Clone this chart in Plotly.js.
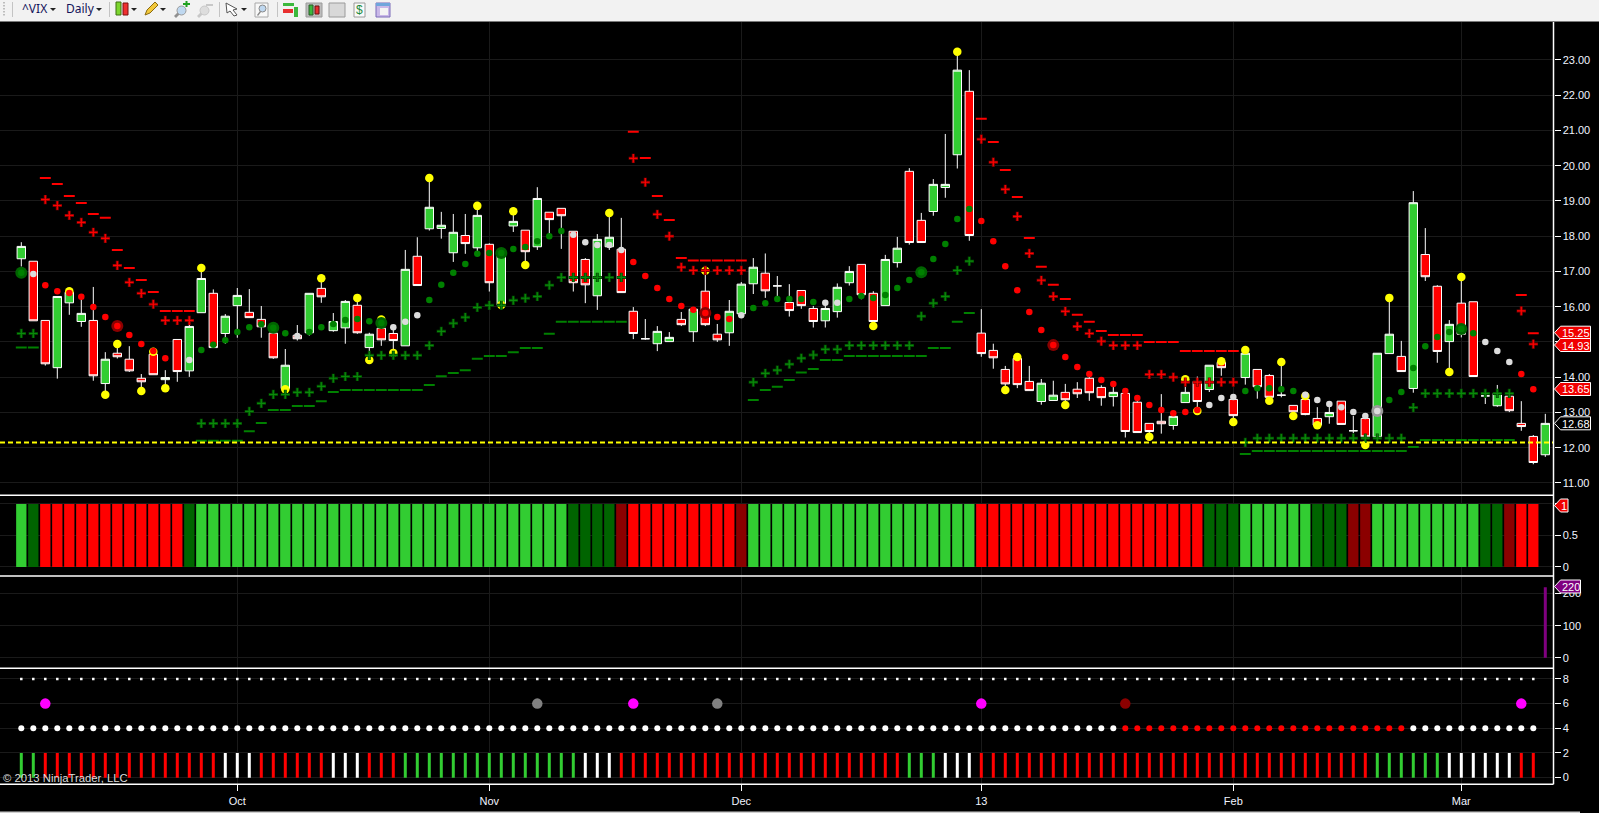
<!DOCTYPE html>
<html>
<head>
<meta charset="utf-8">
<title>^VIX Daily</title>
<script src="https://cdn.plot.ly/plotly-3.0.1.min.js"></script>
<style>html,body{margin:0;padding:0;background:#000;overflow:hidden}#chart{width:1599px;height:813px}</style>
</head>
<body>
<div id="chart"></div>
<script>
// ---------- price panel data ----------
const openPrices = [17.36,17.29,15.61,14.27,16.11,15.58,15.61,13.82,14.68,14.51,
13.97,14.65,13.93,15.07,14.18,15.83,16.38,15.24,16.03,15.84,
15.64,15.25,13.68,15.19,15.26,16.52,15.32,15.40,16.04,14.84,
15.39,15.24,14.89,17.43,18.21,18.22,17.53,18.02,17.67,17.77,
16.04,18.29,18.17,17.70,18.68,18.79,18.14,17.34,16.31,17.70,
17.63,15.87,15.09,14.95,15.01,15.64,15.29,16.44,15.22,15.26,
15.80,16.65,16.95,16.59,16.12,16.46,15.95,15.60,15.86,16.68,
17.20,16.38,16.03,17.25,19.84,18.45,18.70,19.38,20.31,22.11,
15.25,14.76,14.22,14.53,13.88,13.31,13.34,13.57,13.66,13.97,
13.71,13.45,13.54,13.29,12.69,12.75,12.63,13.28,13.88,13.65,
14.42,13.37,13.99,14.22,14.05,13.49,13.20,13.37,12.83,12.88,
13.32,12.48,12.83,12.31,14.67,14.59,13.68,17.48,16.58,15.01,
16.10,16.14,13.47,13.19,13.46,12.69,12.32,11.80];
const highPrices = [17.83,17.29,15.61,16.29,16.52,16.33,16.56,14.71,14.87,14.88,
14.09,14.77,14.20,15.07,15.72,17.04,16.49,15.79,16.53,16.50,
16.02,15.53,14.80,15.48,16.38,16.85,15.82,16.19,16.19,15.26,
15.72,15.48,17.61,17.97,19.64,18.69,18.63,18.63,18.84,17.80,
17.47,18.70,18.17,19.39,18.68,18.79,18.14,17.38,18.06,18.60,
18.52,15.99,15.65,15.45,15.28,15.85,15.93,17.00,15.51,16.19,
16.70,17.38,17.51,16.87,16.64,16.46,16.02,16.14,16.66,17.15,
17.20,16.44,17.47,17.98,19.93,18.66,19.62,20.90,23.19,22.71,
15.93,14.95,14.32,14.58,14.32,13.95,13.90,13.81,13.86,14.06,
13.77,13.73,13.64,13.35,12.69,13.52,12.97,13.73,14.02,14.34,
14.53,13.49,14.87,14.22,14.09,14.44,13.20,13.54,13.15,13.16,
13.32,12.90,12.93,14.68,16.24,15.03,19.28,18.23,16.61,15.62,
16.80,16.14,13.64,13.78,13.46,13.32,12.36,12.96];
const lowPrices = [17.14,15.60,14.33,13.96,15.77,15.43,13.90,13.54,14.53,14.15,
13.68,14.07,13.73,13.87,14.01,15.83,14.84,14.95,15.12,15.69,
15.12,14.52,13.64,15.04,15.18,16.11,15.29,14.95,15.23,14.49,
14.89,14.72,14.89,16.60,18.16,17.93,17.27,17.50,17.56,16.43,
16.00,18.12,17.23,17.61,18.03,17.64,16.43,16.10,15.91,17.61,
16.40,15.08,15.06,14.74,15.01,15.45,15.00,15.45,15.00,14.89,
15.76,16.36,16.25,16.27,15.72,15.94,15.41,15.41,15.69,16.60,
16.21,15.53,16.03,17.11,17.76,17.82,18.58,19.09,19.92,17.87,
14.58,14.24,13.73,13.69,13.62,13.22,13.34,13.26,13.41,13.33,
13.19,13.17,12.29,12.43,12.31,12.40,12.51,13.28,12.98,13.58,
14.04,12.74,13.79,13.39,13.26,13.43,12.88,12.92,12.60,12.68,
12.66,12.41,12.29,12.29,14.67,14.16,13.56,16.73,14.41,14.16,
15.13,14.02,13.24,13.16,13.01,12.48,11.53,11.74];
const closePrices = [17.71,15.60,14.38,16.29,16.41,15.81,14.04,14.51,14.58,14.18,
13.87,14.07,13.99,14.16,15.44,16.80,14.84,15.73,16.32,15.69,
15.43,14.55,14.34,15.09,16.38,16.28,15.58,16.15,15.26,15.22,
15.06,15.04,17.06,16.60,18.82,18.31,18.11,17.79,18.59,16.68,
17.47,18.42,17.56,19.07,18.47,18.58,16.68,16.62,17.91,17.97,
16.40,15.24,15.09,15.30,15.13,15.49,15.93,15.49,15.06,15.87,
16.64,17.12,16.45,16.59,15.89,16.03,15.58,15.95,16.55,17.00,
16.34,15.58,17.34,17.66,17.82,17.82,19.47,19.47,22.71,18.02,
14.67,14.55,13.81,13.79,13.62,13.83,13.49,13.36,13.53,13.56,
13.42,13.57,12.46,12.43,12.46,12.68,12.89,13.57,13.31,14.34,
14.27,12.91,14.68,13.73,13.43,13.49,13.02,12.94,12.64,13.00,
12.66,12.48,12.31,14.68,15.22,14.16,18.95,16.85,14.73,15.50,
15.22,14.02,13.47,13.54,13.05,12.60,11.58,12.69];

const trendDots = [16.96,16.93,16.61,16.44,16.39,16.28,15.99,15.71,15.45,15.20,
14.94,14.74,14.54,14.49,14.49,14.77,14.92,15.05,15.28,15.42,
15.50,15.40,15.25,15.17,15.28,15.42,15.51,15.62,15.65,15.59,
15.54,15.42,15.57,15.76,16.19,16.62,16.96,17.21,17.50,17.52,
17.52,17.64,17.69,17.86,18.00,18.15,18.04,17.83,17.75,17.75,
17.61,17.27,16.87,16.53,16.22,16.02,15.91,15.82,15.71,15.65,
15.76,15.96,16.10,16.22,16.22,16.22,16.13,16.11,16.11,16.22,
16.30,16.25,16.33,16.53,16.76,16.98,17.35,17.78,18.49,18.77,
18.43,17.86,17.15,16.47,15.85,15.34,14.91,14.57,14.29,14.09,
13.92,13.81,13.61,13.41,13.21,13.07,12.98,13.01,13.07,13.21,
13.41,13.44,13.61,13.69,13.69,13.66,13.61,13.50,13.35,13.24,
13.15,13.01,12.90,13.04,13.35,13.58,14.26,14.88,15.14,15.28,
15.37,15.25,15.00,14.74,14.43,14.09,13.66,null];
const trendKindRuns = [['g',1],['w',1],['r',12],['w',1],['g',8],['w',1],['g',7],['w',3],['g',12],['w',5],['r',9],['w',1],['g',6],['w',2],['g',11],['r',19],['w',3],['g',5],['w',7],['g',8],['w',3],['r',2],['w',1]];
const bigDotIndex = [0,8,21,30,40,57,75,86,113,120];

const stopCrosses = [15.24,15.24,19.04,18.87,18.59,18.39,18.11,17.94,17.17,16.69,
16.38,16.07,15.61,15.61,15.61,12.69,12.69,12.69,12.69,13.03,
13.26,13.51,13.51,13.57,13.57,13.74,13.97,14.02,14.02,14.62,
14.62,14.62,14.62,14.62,14.90,15.30,15.53,15.70,15.98,16.04,
16.04,16.18,16.24,16.29,16.61,16.83,16.83,16.83,16.83,16.83,
16.83,20.21,19.53,18.62,18.00,17.12,17.03,17.03,17.03,17.03,
17.03,13.86,14.11,14.20,14.37,14.54,14.63,14.79,14.79,14.90,
14.90,14.90,14.90,14.90,14.90,15.73,16.10,16.29,17.03,17.29,
20.75,20.10,19.33,18.56,17.51,16.75,16.29,15.87,15.44,15.24,
15.02,14.90,14.90,14.90,14.08,14.08,14.00,13.86,13.86,13.86,
13.86,13.86,12.15,12.27,12.27,12.27,12.27,12.27,12.27,12.27,
12.27,12.27,12.27,12.27,12.27,12.27,13.14,13.54,13.54,13.54,
13.54,13.54,13.54,13.54,13.54,15.88,14.94,null];
const stopDashes = [14.84,14.84,19.65,19.48,19.14,18.94,18.63,18.52,17.61,17.10,
16.76,16.42,15.88,15.88,15.88,12.20,12.20,12.20,12.20,12.47,
12.70,13.07,13.07,13.18,13.18,13.32,13.58,13.64,13.64,13.64,
13.64,13.64,13.64,13.64,13.78,14.03,14.12,14.20,14.52,14.60,
14.60,14.71,14.83,14.83,15.23,15.57,15.57,15.57,15.57,15.57,
15.57,20.96,20.22,19.14,18.46,17.38,17.31,17.31,17.31,17.31,
17.31,13.35,13.64,13.73,13.92,14.13,14.23,14.49,14.49,14.60,
14.60,14.60,14.60,14.60,14.60,14.60,14.83,14.83,15.57,15.82,
21.33,20.67,19.88,19.11,17.95,17.13,16.62,16.22,15.77,15.57,
15.31,15.20,15.20,15.20,15.00,15.00,15.00,14.74,14.74,14.74,
14.74,14.74,11.82,11.91,11.91,11.91,11.91,11.91,11.91,11.91,
11.91,11.91,11.91,11.91,11.91,11.91,12.02,12.22,12.22,12.22,
12.22,12.22,12.22,12.22,12.22,16.33,15.25,null];
const stopKindRuns = [['g',2],['r',13],['g',36],['r',10],['g',19],['r',22],['g',23],['r',2],['g',1]];

const yellowIndex = [4,7,8,10,11,12,15,22,25,28,29,30,31,34,38,40,41,42,49,57,71,78,82,83,87,94,97,98,100,101,102,104,105,106,107,108,112,114,119,120];
const yellowPrice = [16.44,13.50,14.94,13.61,14.72,13.69,17.10,13.66,16.81,16.25,14.49,15.64,14.69,19.65,18.86,16.05,18.71,17.18,18.66,17.02,15.45,23.23,13.64,14.57,13.21,12.31,13.94,13.04,14.45,12.73,14.77,13.33,14.43,12.90,13.47,12.64,12.08,16.25,14.15,16.84];
const supportLevel = 12.15;

// ---------- lower panels ----------
const statePanelRuns = [['g',1],['d',1],['r',12],['d',1],['g',31],['d',4],['D',1],['r',9],['D',1],['g',19],['r',19],['d',3],['g',6],['d',3],['D',2],['g',9],['d',2],['D',1],['r',2]];
const stateValue = 1;
const volumeLastIndex = 127;
const volumeLastValue = 220;
const topRowLevel = 8;
const eventRowLevel = 6;
const midRowLevel = 4;
const tickBarLevel = 2;
const eventIndex = [2,43,51,58,80,92,125];
const eventColors = ['#FF00FF','#808080','#FF00FF','#808080','#FF00FF','#8B0000','#FF00FF'];
const midRowRuns = [['w',92],['r',24],['w',11]];
const tickBarRuns = [['g',2],['r',15],['w',3],['r',6],['w',3],['r',3],['g',15],['w',3],['r',24],['g',3],['w',3],['r',33],['g',6],['w',6],['r',2]];

// ---------- axes ----------
const monthIndex = [18,39,60,80,101,120];
const monthLabels = ['Oct','Nov','Dec','13','Feb','Mar'];
const priceTicks = [11,12,13,14,15,16,17,18,19,20,21,22,23];
const stateTicks = [0,0.5,1];
const stateTickText = ['0','0.5',''];
const volumeTicks = [0,100,200];
const signalTicks = [0,2,4,6,8];

// ---------- helpers ----------
const W = 1599, H = 813, AXR = 1553.5;
const COL = {g:'#32CD32', d:'#006400', r:'#FF0000', D:'#8B0000', w:'#FFFFFF'};
const expand = runs => runs.flatMap(([k,n]) => Array(n).fill(k));
const idx = n => Array.from({length:n},(_,i)=>i);
const px = x => x/W, py = y => 1-y/H;
const dom = (top,bot) => [py(bot),py(top)];
const X = idx(128);
const trendKinds = expand(trendKindRuns);
const stopKinds = expand(stopKindRuns);
const trendColor = {g:'#008000', r:'#FF0000', w:'#DCDCDC'};
const bigColor = {g:'#006400', r:'#8B0000', w:'#9A9A9A'};
const stopBright = {g:'#0A8A0A', r:'#FF0000'};
const stopHalo = {g:'#004A00', r:'#800000'};

const traces = [
  {type:'candlestick', x:X, open:openPrices, high:highPrices, low:lowPrices, close:closePrices, xaxis:'x', yaxis:'y',
   increasing:{line:{color:'#FFFFFF',width:1}, fillcolor:'#32CD32'},
   decreasing:{line:{color:'#FFFFFF',width:1}, fillcolor:'#FF0000'},
   whiskerwidth:0, hoverinfo:'skip', showlegend:false},
  {type:'scatter', mode:'markers', x:yellowIndex, y:yellowPrice, xaxis:'x', yaxis:'y',
   marker:{size:8.5,color:'#FFFF00'}, hoverinfo:'skip'},
  {type:'scatter', mode:'markers', x:X, y:stopDashes, xaxis:'x', yaxis:'y',
   marker:{symbol:'line-ew',size:7.8,line:{width:2,color:stopKinds.map(k=>k==='g'?'#008000':'#FF0000')}}, hoverinfo:'skip'},
  {type:'scatter', mode:'markers', x:X, y:stopCrosses, xaxis:'x', yaxis:'y',
   marker:{symbol:'cross-thin',size:6.6,line:{width:3,color:stopKinds.map(k=>stopHalo[k])}}, hoverinfo:'skip'},
  {type:'scatter', mode:'markers', x:X, y:stopCrosses, xaxis:'x', yaxis:'y',
   marker:{symbol:'cross-thin',size:6,line:{width:1.2,color:stopKinds.map(k=>stopBright[k])}}, hoverinfo:'skip'},
  {type:'scatter', mode:'markers', x:bigDotIndex, y:bigDotIndex.map(i=>trendDots[i]), xaxis:'x', yaxis:'y',
   marker:{size:12,color:bigDotIndex.map(i=>bigColor[trendKinds[i]])}, hoverinfo:'skip'},
  {type:'scatter', mode:'markers', x:X, y:trendDots, xaxis:'x', yaxis:'y',
   marker:{size:6.5,color:trendKinds.map(k=>trendColor[k])}, hoverinfo:'skip'},
  {type:'scatter', mode:'lines', x:[-1.775,127.68], y:[supportLevel,supportLevel], xaxis:'x', yaxis:'y',
   line:{color:'#FFFF00',width:2,dash:'5px,3px'}, hoverinfo:'skip'},
  {type:'bar', x:idx(127), y:Array(127).fill(stateValue), xaxis:'x', yaxis:'y2', width:0.86,
   marker:{color:expand(statePanelRuns).map(k=>COL[k]),line:{width:0}}, hoverinfo:'skip'},
  {type:'bar', x:[volumeLastIndex], y:[volumeLastValue], xaxis:'x', yaxis:'y3', width:0.25,
   marker:{color:'#800080',line:{width:0}}, hoverinfo:'skip'},
  {type:'bar', x:idx(127), y:Array(127).fill(tickBarLevel), xaxis:'x', yaxis:'y4', width:0.25,
   marker:{color:expand(tickBarRuns).map(k=>COL[k]),line:{width:0}}, hoverinfo:'skip'},
  {type:'scatter', mode:'markers', x:idx(127), y:Array(127).fill(topRowLevel), xaxis:'x', yaxis:'y4',
   marker:{symbol:'square',size:2.5,color:'#FFFFFF'}, hoverinfo:'skip'},
  {type:'scatter', mode:'markers', x:eventIndex, y:eventIndex.map(()=>eventRowLevel), xaxis:'x', yaxis:'y4',
   marker:{size:10.5,color:eventColors}, hoverinfo:'skip'},
  {type:'scatter', mode:'markers', x:idx(127), y:Array(127).fill(midRowLevel), xaxis:'x', yaxis:'y4',
   marker:{size:6,color:expand(midRowRuns).map(k=>COL[k])}, hoverinfo:'skip'}
];

const GRID = '#1A1A1A', FONT = {family:'"Liberation Sans", Arial, sans-serif', size:11, color:'#F0F4FF'};
const yBase = {anchor:'x', side:'right', showgrid:true, gridcolor:GRID, gridwidth:1, zeroline:false, showline:false,
  ticks:'outside', ticklen:6, tickcolor:'#FFFFFF', tickwidth:1, tickfont:FONT, tickmode:'array', fixedrange:true};

const shapes = [], annotations = [];
const rectPx = (x0,y0,x1,y1,fill,line) => shapes.push({type:'rect',xref:'paper',yref:'paper',x0:px(x0),x1:px(x1),y0:py(y1),y1:py(y0),
  fillcolor:fill,line:line?{color:line,width:1}:{width:0},layer:'above'});
const lineWhite = (x0,y0,x1,y1) => shapes.push({type:'line',xref:'paper',yref:'paper',x0:px(x0),x1:px(x1),y0:py(y0),y1:py(y1),line:{color:'#FFFFFF',width:1.5},layer:'above'});
const polyPx = (pts,fill,line) => shapes.push({type:'path',xref:'paper',yref:'paper',
  path:'M'+pts.map(p=>px(p[0])+','+py(p[1])).join('L')+'Z',fillcolor:fill,line:line?{color:line,width:1}:{width:0},layer:'above'});
const textPx = (x,y,text,font,anchor) => annotations.push({xref:'paper',yref:'paper',x:px(x),y:py(y),text,showarrow:false,
  xanchor:anchor||'left',yanchor:'middle',font,borderpad:0});

// panel separators
lineWhite(0,495.3,AXR,495.3); lineWhite(0,576,AXR,576); lineWhite(0,668.3,AXR,668.3); lineWhite(0,784.3,AXR,784.3);
lineWhite(AXR,22,AXR,784.3);

// price tags on the right axis
const tag = (yc,x1,text,fill,border,textY) => {
  polyPx([[1554.5,yc],[1560.5,yc-6.5],[x1,yc-6.5],[x1,yc+6.5],[1560.5,yc+6.5]],fill,border);
  textPx((1560.5+x1)/2,(textY===undefined?yc:textY)+0.3,text,{family:FONT.family,size:11,color:'#FFFFFF'},'center');
};
tag(332.7,1590.5,'15.25','#F00000','#FFFFFF',332.2);
tag(345,1590.5,'14.93','#F00000','#FFFFFF',345.5);
tag(389,1590.5,'13.65','#F00000','#FFFFFF');
tag(423.3,1590.5,'12.68','#000000','#FFFFFF');
tag(505.5,1568,'1','#F00000','#FFFFFF');
tag(586.5,1580.5,'220','#800080','#FFFFFF');

// copyright
textPx(2,778,'\u00A9 2013 NinjaTrader, LLC',{family:FONT.family,size:11.3,color:'#DCDCDC'});

// toolbar
rectPx(0,0,W,21.5,'#F2F2F2');
rectPx(0,811.5,1580,813,'#CFCFCF');
const TB = {family:'"Noto Sans", sans-serif', size:12, color:'#14145A'};
textPx(21,9,'^VIX',TB); textPx(65,9,'Daily',TB);
[53,99,134,163,244].forEach(x=>polyPx([[x-3,8],[x+3,8],[x,11]],'#222222'));
[12,109,219,277].forEach(x=>rectPx(x,2,x+1,17,'#C4C4C4'));
[2,5,8,11,14].forEach(y=>rectPx(3,y,5,y+1.5,'#BDBDBD'));
// candle icon
rectPx(116,2,121,15,'#7CD62E','#3C6E10'); rectPx(123,3,128,15,'#F03030','#7A1010');
// pencil
polyPx([[145,15],[147,10],[155,2],[158,5],[150,13]],'#F2C83A','#8A6A10');
// zoom in / out
polyPx([[174,16],[178,12],[180,14],[176,18]],'#909090');
shapes.push({type:'circle',xref:'paper',yref:'paper',x0:px(177),x1:px(186),y0:py(15),y1:py(6),fillcolor:'#BFD8F0',line:{color:'#9A9A9A',width:1},layer:'above'});
rectPx(183,3,190,5,'#1FA01F'); rectPx(185.5,1,187.5,7,'#1FA01F');
polyPx([[197,16],[201,12],[203,14],[199,18]],'#C8C8C8');
shapes.push({type:'circle',xref:'paper',yref:'paper',x0:px(200),x1:px(209),y0:py(15),y1:py(6),fillcolor:'#DDDDDD',line:{color:'#C8C8C8',width:1},layer:'above'});
rectPx(206,4,213,6,'#C8C8C8');
// cursor
polyPx([[226,3],[237,9],[233,10],[237,15],[234,16],[230,11],[227,13]],'#FFFFFF','#555555');
// zoom box
rectPx(255,3,268,17,'#F8F8F8','#A8A8A8');
shapes.push({type:'circle',xref:'paper',yref:'paper',x0:px(259),x1:px(266),y0:py(12),y1:py(5),fillcolor:'#BFD8F0',line:{color:'#8A8A8A',width:1},layer:'above'});
polyPx([[257,15],[260,11],[261,12],[258,16]],'#888888');
// bars icon
rectPx(283,3,294,6,'#3CB83C'); rectPx(283,9,293,13,'#E83030'); rectPx(294,7,298,17,'#3CB83C');
// candles box
rectPx(306,3,322,17,'#BDBDBD','#9A9A9A'); rectPx(309,5,313,15,'#3CB83C','#2A5A2A'); rectPx(315,6,319,14,'#E83030','#6A1010');
// line chart box
rectPx(329,3,345,17,'#D8D8D8','#9A9A9A');
// dollar doc
rectPx(354,3,365,17,'#FAFAFA','#9A9A9A');
textPx(359.5,10,'$',{family:'"Liberation Sans"',size:12,color:'#1E8A3C'},'center');
// window
rectPx(376,3,390,17,'#C9B8E8','#7A6AB8'); rectPx(376,3,390,6,'#6FA6DC'); rectPx(380,8,388,15,'#F4F4F4');

const layout = {
  width:W, height:H, autosize:false,
  margin:{l:0,r:0,t:0,b:0,pad:0},
  paper_bgcolor:'#000000', plot_bgcolor:'#000000',
  showlegend:false, dragmode:false, hovermode:false, barmode:'overlay', boxgap:0,
  xaxis:{domain:[0,AXR/W], range:[-1.775,127.683], anchor:'y4', showgrid:true, gridcolor:GRID, gridwidth:1, zeroline:false, showline:false,
    tickmode:'array', tickvals:monthIndex, ticktext:monthLabels, ticks:'outside', ticklen:6, tickcolor:'#FFFFFF', tickfont:FONT,
    rangeslider:{visible:false}, fixedrange:true},
  yaxis: Object.assign({},yBase,{domain:dom(21.5,495.3), range:[10.65,24.09], tickvals:priceTicks, tickformat:'.2f'}),
  yaxis2:Object.assign({},yBase,{domain:dom(495.3,576), range:[-0.143,1.138], tickvals:stateTicks, ticktext:stateTickText}),
  yaxis3:Object.assign({},yBase,{domain:dom(576,668.3), range:[-33,255], tickvals:volumeTicks}),
  yaxis4:Object.assign({},yBase,{domain:dom(668.3,784.3), range:[-0.54,8.86], tickvals:signalTicks}),
  shapes, annotations
};
Plotly.newPlot('chart', traces, layout, {displayModeBar:false, staticPlot:true});
</script>
</body>
</html>
